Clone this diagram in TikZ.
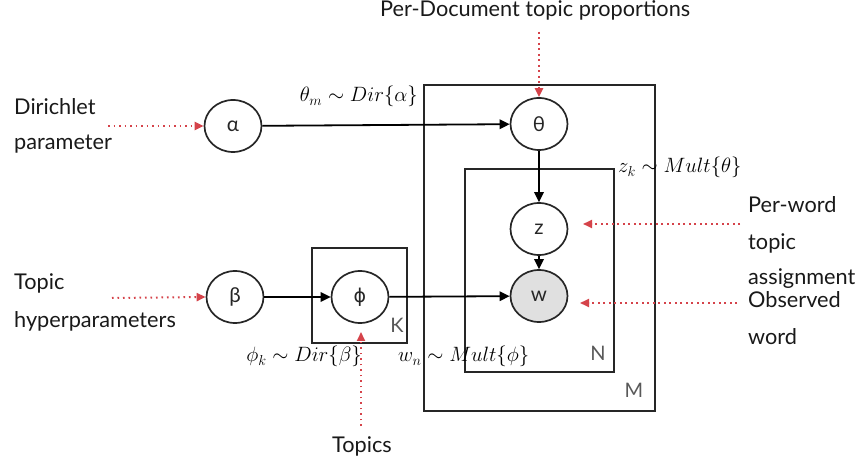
\documentclass[tikz,border=0pt]{standalone}
\usepackage{fontspec}
\setmainfont{Lato}
\newfontfamily\phifont{DejaVu Sans}
\usetikzlibrary{arrows.meta,shapes.geometric}
\definecolor{redd}{HTML}{D5434A}
\definecolor{edge}{HTML}{262626}
\definecolor{wfill}{HTML}{E0E0E0}
\begin{document}
\begin{tikzpicture}[x=1pt,y=-1pt,
  var/.style={ellipse, draw=edge, line width=1.7pt, minimum width=57pt, minimum height=52pt, inner sep=0pt, text=edge, font=\fontsize{20.5}{24}\selectfont},
  plate/.style={draw=edge, line width=1.8pt},
  platelbl/.style={text=black!65, font=\fontsize{20}{24}\selectfont, inner sep=0pt},
  arr/.style={-{Triangle[length=10pt,width=9.5pt]}, line width=1.8pt, black},
  note/.style={redd, line width=2pt, dash pattern=on 1.6pt off 3.9pt, -{Triangle[length=9pt,width=8pt]}},
  lbl/.style={font=\fontsize{21.7}{24}\selectfont, anchor=base west, inner sep=0pt, text=black!90},
  mlbl/.style={font=\fontsize{20}{24}\selectfont, inner sep=0pt}]
\useasboundingbox (0,0) rectangle (860,462);
% plates
\draw[plate] (424,85) rectangle (655,411);
\draw[plate] (465,169) rectangle (614,372);
\draw[plate] (312,248) rectangle (407,343);
\node[platelbl] (Klbl) at (397,325) {K};
\node[platelbl] (Nlbl) at (598,353) {N};
\node[platelbl] (Mlbl) at (634,390) {M};
% variables
\node[var] (alpha) at (233,126) {α};
\node[var] (theta) at (539,124) {θ};
\node[var] (z) at (539,229) {z};
\node[var, fill=wfill] (w) at (539,296) {w};
\node[var] (beta) at (235,297) {β};
\node[var] (phi) at (360,297) {\phifont\fontsize{19}{22}\selectfont ϕ};
% edges
\draw[arr] (alpha) -- (theta);
\draw[arr] (theta) -- (z);
\draw[arr] (z) -- (w);
\draw[arr] (beta) -- (phi);
\draw[arr] (phi) -- (w);
% math labels
\node[mlbl, anchor=base east] (thetalbl) at (418,102) {$\theta_m \sim Dir\{\alpha\}$};
\node[mlbl, anchor=base west] (zlbl) at (618,173) {$z_k \sim Mult\{\theta\}$};
\node[mlbl, anchor=base east] (philbl) at (362,362) {$\phi_k \sim Dir\{\beta\}$};
\node[mlbl, anchor=base west] (wlbl) at (398,362) {$w_n \sim Mult\{\phi\}$};
% text labels
\node[lbl] (dir1) at (14,115) {Dirichlet};
\node[lbl] (dir2) at (14,150) {parameter};
\node[lbl] (top1) at (14,290) {Topic};
\node[lbl] (top2) at (14,328) {hyperparameters};
\node[lbl] (perdoc) at (380,17) {Per-Document topic proportions};
\node[lbl] (pw1) at (748,213) {Per-word};
\node[lbl] (pw2) at (748,250) {topic};
\node[lbl] (pw3) at (748,285) {assignment};
\node[lbl] (ob1) at (748,308) {Observed};
\node[lbl] (ob2) at (748,345) {word};
\node[lbl] (topics) at (332,452) {Topics};
% red pointers
\coordinate (dirS) at (108,126);
\coordinate (topS) at (112,298);
\coordinate (perdocS) at (539,32);
\coordinate (pwS) at (740,224);
\coordinate (pwE) at (583,224);
\coordinate (obS) at (737,303);
\coordinate (obE) at (580,303);
\coordinate (topicsS) at (361,426);
\coordinate (topicsE) at (361,332);
\draw[note] (dirS) -- (alpha.west);
\draw[note] (topS) -- (beta.west);
\draw[note] (perdocS) -- (theta.north);
\draw[note] (pwS) -- (pwE);
\draw[note] (obS) -- (obE);
\draw[note] (topicsS) -- (topicsE);
\end{tikzpicture}
\end{document}
